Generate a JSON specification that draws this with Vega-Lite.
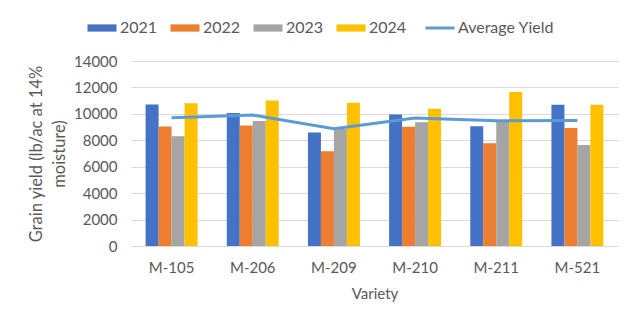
{
  "$schema": "https://vega.github.io/schema/vega-lite/v6.json",
  "autosize": "none",
  "width": 487,
  "height": 185,
  "padding": {"left": 131, "top": 61, "right": 22, "bottom": 83},
  "background": "white",
  "config": {
    "font": "Lato",
    "view": {"stroke": null},
    "axis": {"labelColor": "#595959", "titleColor": "#595959", "labelFontSize": 15, "titleFontSize": 15, "titleFontWeight": "normal", "labelFont": "Lato", "titleFont": "Lato"}
  },
  "datasets": {
    "bars": [
      {"variety": "M-105", "year": "2021", "value": 10700},
      {"variety": "M-105", "year": "2022", "value": 9050},
      {"variety": "M-105", "year": "2023", "value": 8300},
      {"variety": "M-105", "year": "2024", "value": 10800},
      {"variety": "M-206", "year": "2021", "value": 10060},
      {"variety": "M-206", "year": "2022", "value": 9110},
      {"variety": "M-206", "year": "2023", "value": 9460},
      {"variety": "M-206", "year": "2024", "value": 11020},
      {"variety": "M-209", "year": "2021", "value": 8580},
      {"variety": "M-209", "year": "2022", "value": 7170},
      {"variety": "M-209", "year": "2023", "value": 8880},
      {"variety": "M-209", "year": "2024", "value": 10840},
      {"variety": "M-210", "year": "2021", "value": 9960},
      {"variety": "M-210", "year": "2022", "value": 9030},
      {"variety": "M-210", "year": "2023", "value": 9360},
      {"variety": "M-210", "year": "2024", "value": 10390},
      {"variety": "M-211", "year": "2021", "value": 9060},
      {"variety": "M-211", "year": "2022", "value": 7770},
      {"variety": "M-211", "year": "2023", "value": 9430},
      {"variety": "M-211", "year": "2024", "value": 11650},
      {"variety": "M-521", "year": "2021", "value": 10690},
      {"variety": "M-521", "year": "2022", "value": 8930},
      {"variety": "M-521", "year": "2023", "value": 7650},
      {"variety": "M-521", "year": "2024", "value": 10690}
    ],
    "avg": [
      {"variety": "M-105", "value": 9712},
      {"variety": "M-206", "value": 9912},
      {"variety": "M-209", "value": 8867},
      {"variety": "M-210", "value": 9685},
      {"variety": "M-211", "value": 9477},
      {"variety": "M-521", "value": 9490}
    ]
  },
  "encoding": {
    "x": {
      "field": "variety", "type": "nominal",
      "scale": {"paddingInner": 0.36, "paddingOuter": 0.18},
      "axis": {"title": "Variety", "labelAngle": 0, "ticks": false, "domain": false, "labelPadding": 14, "titlePadding": 11}
    },
    "y": {
      "field": "value", "type": "quantitative",
      "scale": {"domain": [0, 14000], "nice": false},
      "axis": {"title": ["Grain yield (lb/ac at 14%", "moisture)"], "titleFontSize": 16.5, "titleLineHeight": 23, "values": [0,2000,4000,6000,8000,10000,12000,14000], "format": "d", "ticks": false, "domain": false, "labelPadding": 14, "titlePadding": 6, "gridColor": "#D9D9D9", "gridWidth": 1}
    }
  },
  "layer": [
    {
      "data": {"name": "bars"},
      "mark": {"type": "bar"},
      "encoding": {
        "xOffset": {"field": "year", "type": "nominal", "scale": {"paddingInner": 0, "paddingOuter": 0}},
        "color": {
          "field": "year", "type": "nominal",
          "scale": {"domain": ["2021", "2022", "2023", "2024", "Average Yield"], "range": ["#4472C4", "#ED7D31", "#A5A5A5", "#FFC000", "#5B9BD5"]},
          "legend": {
            "title": null, "orient": "none", "direction": "horizontal",
            "legendX": -37, "legendY": -41,
            "labelFontSize": 16, "labelColor": "#595959", "labelFont": "Lato",
            "symbolSize": 841, "symbolOffset": 0, "labelOffset": 10, "columnPadding": 12,
            "symbolType": "M-1,-0.25H1V0.25H-1Z",
            "encode": {
              "symbols": {"update": {
                "shape": {"signal": "datum.value === 'Average Yield' ? 'stroke' : 'M-1,-0.25H1V0.25H-1Z'"},
                "stroke": {"signal": "scale('color', datum.value)"},
                "strokeWidth": {"signal": "datum.value === 'Average Yield' ? 3 : 0"},
                "opacity": {"value": 1}
              }}
            }
          }
        }
      }
    },
    {
      "data": {"name": "avg"},
      "mark": {"type": "line", "strokeWidth": 3},
      "encoding": {
        "color": {"datum": "Average Yield", "type": "nominal"}
      }
    }
  ]
}
